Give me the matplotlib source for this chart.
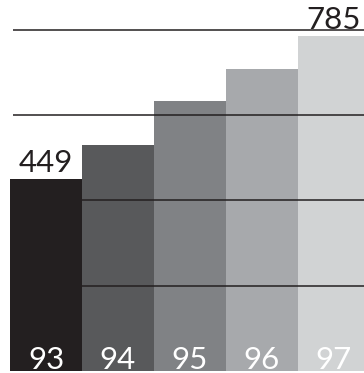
import matplotlib.pyplot as plt

years = ['93', '94', '95', '96', '97']
values = [449, 530, 633, 708, 785]
shown_values = {0: '449', 4: '785'}
colors = ['#231f20', '#58595b', '#808285', '#a7a9ac', '#d1d3d4']
grid_values = [200, 400, 600, 800]

fig = plt.figure(figsize=(3.64, 3.73), dpi=100)
ax = fig.add_axes([0, 0, 1, 1])

x = range(len(years))
ax.bar(x, values, width=1.0, color=colors, zorder=1)

# horizontal rules sit on top of the bars
ax.hlines(grid_values, -0.458, 5, colors='#231f20', linewidth=1.1, zorder=2)

font = dict(family=['Lato', 'DejaVu Sans'], weight='normal', fontsize=22.5)

for i, label in shown_values.items():
    ax.annotate(label, (i, values[i]), xytext=(0, 5), textcoords='offset points',
                ha='center', va='baseline', color='#231f20', **font)

for i, yr in enumerate(years):
    ax.annotate(yr, (i, 0), xytext=(0, 1.2), textcoords='offset points',
                ha='center', va='baseline', color='white', **font)

ax.set_xlim(-0.639, 4.417)
ax.set_ylim(-4.7, 869.3)
ax.axis('off')

fig.savefig('out.png', dpi=100)
